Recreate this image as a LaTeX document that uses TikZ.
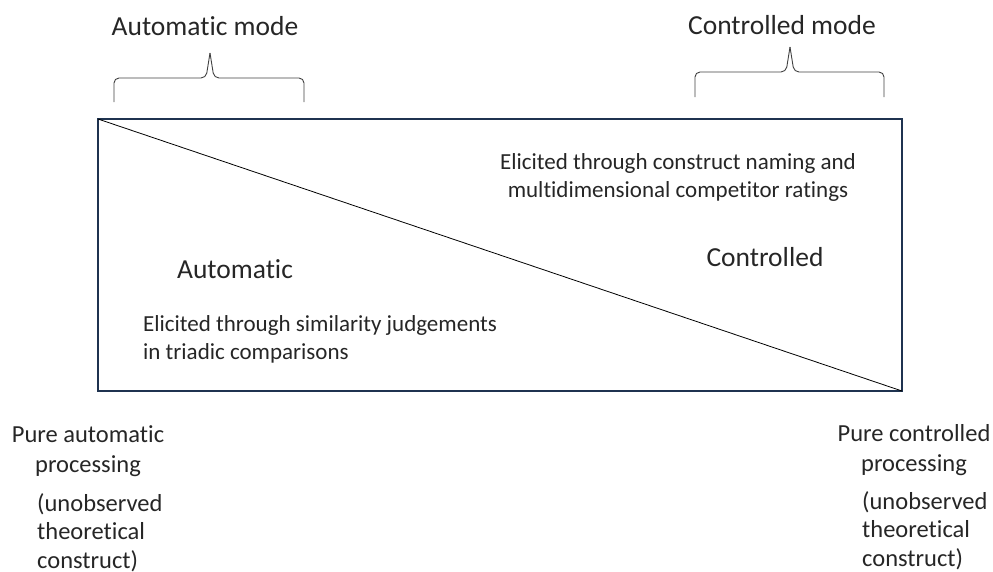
\documentclass[tikz,border=0pt]{standalone}
\usepackage{fontspec}
\setmainfont{Carlito}[Ligatures=NoCommon]
\usetikzlibrary{decorations.pathreplacing}
\definecolor{framenavy}{HTML}{1F3350}
\definecolor{textgray}{HTML}{262626}
\tikzset{
  lbl/.style={inner sep=0pt, text=textgray, font=\fontsize{23}{28}\selectfont},
  endlbl/.style={inner sep=0pt, text=textgray, font=\fontsize{24.5}{28.5}\selectfont},
  big/.style={inner sep=0pt, text=textgray, font=\fontsize{27.5}{30}\selectfont},
  bracestyle/.style={draw=black!75, line width=0.9pt}
}
\begin{document}
\begin{tikzpicture}[x=1pt,y=-1pt]
\useasboundingbox (0,0) rectangle (993,571);
% main box with the diagonal split
\coordinate (tl) at (98,119);
\coordinate (br) at (902,391);
\draw[framenavy, line width=2.8pt] (tl) rectangle (br);
\draw[black, line width=0.8pt] (tl) -- (br);
% braces over the two modes
\draw[bracestyle, rounded corners=5pt] (114,102) -- (114,78) -- (206,78) -- (210,53);
\draw[bracestyle, rounded corners=5pt] (304,102) -- (304,78) -- (214,78) -- (210,53);
\draw[bracestyle, rounded corners=5pt] (695,97) -- (695,72) -- (786,72) -- (790,47);
\draw[bracestyle, rounded corners=5pt] (884,97) -- (884,72) -- (794,72) -- (790,47);
\node[big] (amode) at (205,26) {Automatic mode};
\node[big] (cmode) at (782,25) {Controlled mode};
% labels inside the box
\node[lbl, align=center] (celicit) at (678,177) {Elicited through construct naming and\\multidimensional competitor ratings};
\node[big] (ctrl) at (765,257) {Controlled};
\node[big] (auto) at (235,269) {Automatic};
\node[lbl, align=left, anchor=west] (aelicit) at (143,339) {Elicited through similarity judgements\\in triadic comparisons};
% end points of the continuum
\node[endlbl, align=center] (pauto) at (88,451) {Pure automatic\\[2pt]processing};
\node[endlbl, align=left, anchor=north west] (uauto) at (37,493) {(unobserved\\theoretical\\construct)};
\node[endlbl, align=center] (pctrl) at (914,450) {Pure controlled\\[1pt]processing};
\node[endlbl, align=left, anchor=north west] (uctrl) at (862,491) {(unobserved\\theoretical\\construct)};
\end{tikzpicture}
\end{document}
